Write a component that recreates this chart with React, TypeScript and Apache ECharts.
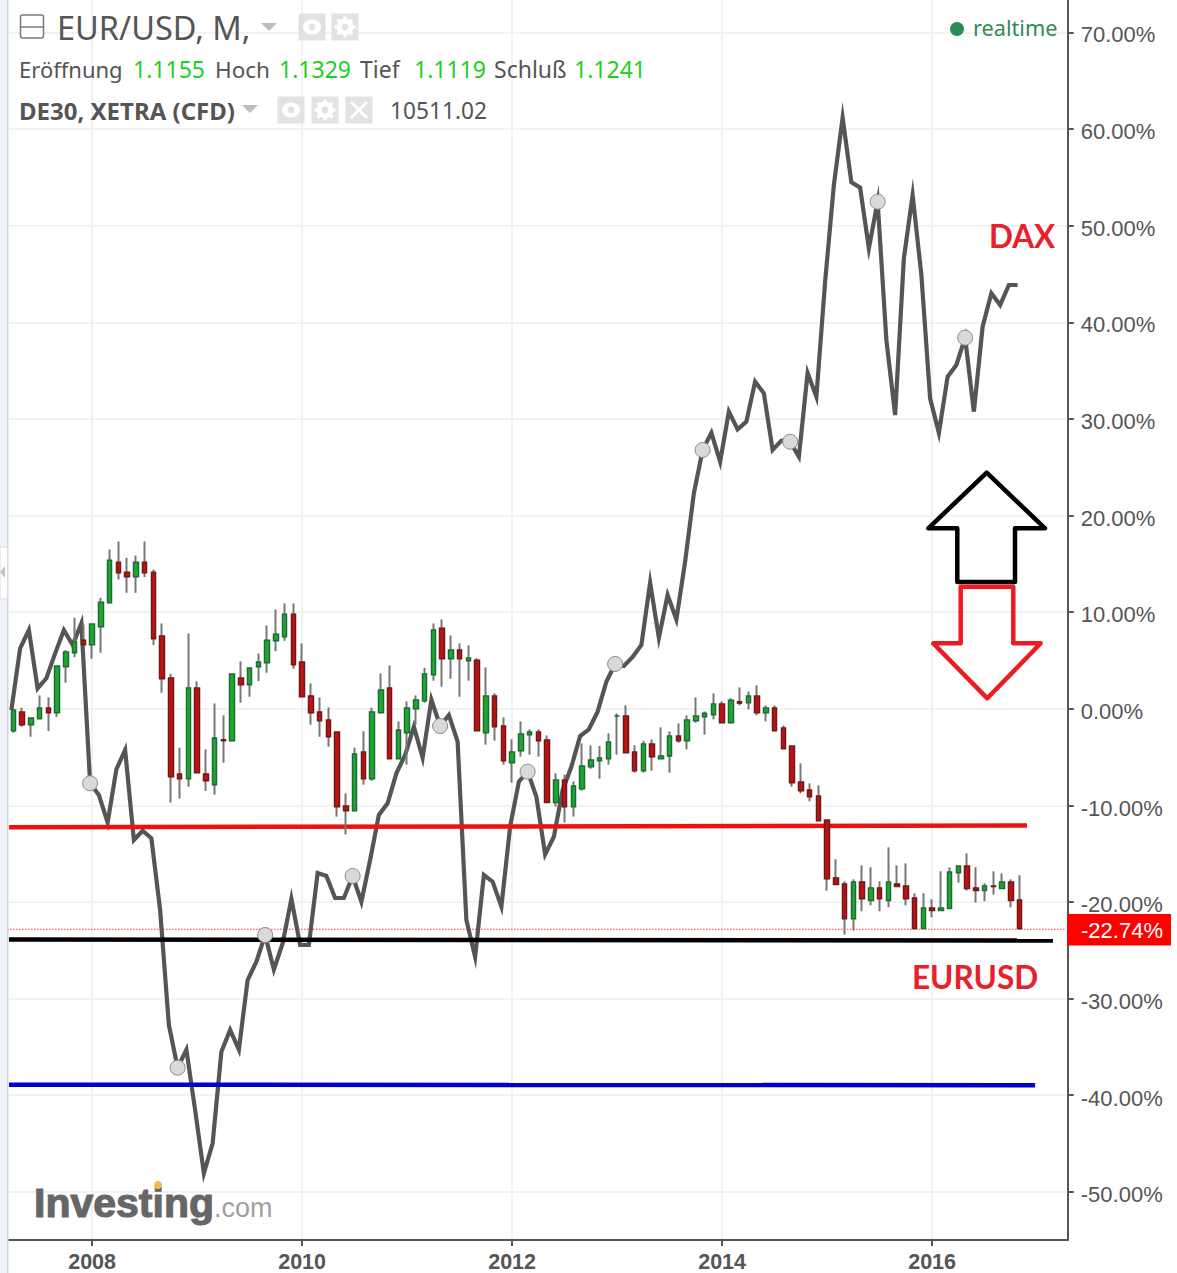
import React, { useEffect, useRef } from "react";
import * as echarts from "echarts";

const months: string[] = [];
for (let y = 2007, m = 4; months.length < 121; m++) {
  if (m > 12) { m = 1; y++; }
  months.push(`${y}-${String(m).padStart(2, "0")}`);
}

const opens = [
  -2.27, -0.34, -1.65, -1.03, 0.08, -0.4, 4.35, 5.8, 7.11, 6.63, 8.49, 10.97, 15.18, 14.15, 13.66, 15.18, 14.15, 7.53, 3.18, -6.75,
  -7.23, 2.15, -6.75, -7.85, -3.2, -3.3, 3.18, 2.49, 4.35, 4.77, 7.04, 7.46, 9.8, 4.84, 1.32, -0.34, -1.16, -2.4, -10.06,
  -10.54, -4.47, -7.23, -0.4, 2.15, -5.16, -2.47, 0.01, 0.84, 3.53, 8.35, 5.18, 6.08, 4.98, 5.04, -2.47, 1.32, -1.78, -5.58, -4.33,
  -2.68, -2.4, -3.23, -9.71, -7.37, -10.13, -8.27, -5.99, -5.37, -5.16, -0.75, -0.75, -4.47, -6.4, -3.64, -5.16, -4.89, -2.82, -3.3,
  -1.23, -0.82, -0.61, 0.49, -1.44, 0.73, 0.63, 1.32, -0.41, 0.08, -1.99, -3.85, -7.58, -8.4, -9.03, -11.51, -17.51, -18.13, -21.72,
  -17.92, -19.85, -18.54, -19.85, -18.13, -18.34, -19.58, -22.75, -20.61, -20.89, -20.68, -16.96, -16.27, -18.54, -18.82, -18.34, -18.61, -17.92, -19.78,
];
const closes = [
  -0.13, -1.65, -0.96, 0.08, -0.4, 4.42, 5.87, 6.91, 6.63, 8.77, 11.04, 15.39, 14.08, 13.66, 15.18, 14.08, 7.25, 3.11, -7.02, -7.23,
  2.15, -6.61, -7.44, -3.02, -3.3, 3.6, 2.49, 4.22, 4.84, 7.11, 7.73, 9.8, 4.56, 1.25, -0.4, -1.23, -2.89, -10.13, -10.54,
  -4.68, -7.23, -0.33, 1.94, -5.16, -2.2, 0.08, 0.91, 3.6, 8.15, 5.18, 6.08, 5.18, 5.25, -2.27, 1.32, -1.85, -5.37, -4.47, -2.61,
  -2.4, -3.3, -9.71, -7.37, -10.13, -8.0, -5.92, -5.3, -5.09, -3.44, -0.75, -4.54, -6.4, -3.64, -4.95, -4.89, -2.82, -3.3, -1.16,
  -0.75, -0.47, 0.49, -1.44, 0.9, 0.59, 1.32, -0.41, 0.08, -2.27, -4.13, -7.65, -8.47, -9.1, -11.58, -17.58, -18.2, -21.72, -17.92,
  -19.65, -18.54, -19.65, -17.92, -18.4, -19.65, -22.75, -20.61, -20.89, -20.61, -16.89, -16.27, -18.61, -18.82, -18.34, -18.4, -17.92, -19.85, -22.74,
];
const lows = [
  -2.47, -1.85, -2.89, -1.03, -2.3, -0.85, 2.7, 5.35, 6.63, 5.18, 5.8, 10.97, 13.39, 12.01, 12.01, 13.63, 6.6, 1.66, -9.71, -9.3,
  -8.06, -6.61, -8.51, -8.89, -5.58, -3.3, 0.63, 1.25, 2.87, 3.73, 5.97, 7.04, 4.15, 1.25, -1.65, -2.89, -3.92, -11.16, -13.0,
  -10.54, -7.85, -7.47, -0.4, -5.16, -5.16, -5.78, -1.64, 0.63, 2.91, 2.29, 3.11, 1.25, 2.91, -2.27, -3.71, -3.3, -5.78, -7.64, -4.95,
  -4.75, -4.95, -9.71, -10.13, -11.78, -11.16, -8.47, -6.2, -7.23, -5.78, -4.75, -4.54, -6.61, -6.61, -6.4, -5.16, -6.61, -3.51, -4.2,
  -1.44, -2.68, -1.1, -1.44, -1.44, 0.35, -0.06, -0.68, -1.3, -2.27, -4.13, -8.06, -8.75, -9.58, -11.58, -18.82, -18.2, -23.37, -22.96,
  -20.96, -20.34, -20.96, -20.54, -18.4, -20.34, -22.75, -22.75, -21.58, -20.89, -20.68, -18.0, -18.82, -20.06, -19.92, -19.23, -18.61, -20.54, -22.89,
];
const highs = [
  -0.13, 0.11, -0.96, 1.39, 1.18, 4.42, 6.08, 9.42, 8.73, 8.77, 11.49, 16.49, 17.32, 15.63, 15.87, 17.32, 14.42, 8.84, 3.63, -4.02,
  7.8, 2.84, -4.2, 0.56, -0.68, 3.6, 4.91, 4.22, 5.73, 8.63, 10.28, 10.91, 10.91, 6.77, 2.63, 1.18, 0.15, -2.4, -8.75,
  -4.02, -2.33, 0.11, 3.67, 4.49, -1.3, 0.77, 1.39, 4.25, 8.84, 9.25, 7.6, 6.77, 6.56, 5.25, 4.29, 1.6, -0.89, -3.16, -1.3,
  -2.13, -2.13, -2.75, -6.68, -6.82, -7.51, -3.58, -3.78, -3.85, -2.54, -0.47, 0.36, -3.78, -3.3, -3.16, -1.92, -2.33, -1.51, -0.68,
  1.18, -0.27, 1.59, 0.77, 1.11, 2.21, 1.8, 2.42, 0.35, 0.35, -1.72, -3.85, -5.65, -7.72, -7.92, -11.51, -15.58, -17.85, -17.65,
  -16.2, -16.4, -17.85, -14.34, -16.2, -16.0, -19.09, -19.09, -19.72, -16.82, -16.4, -16.27, -14.96, -16.4, -18.06, -16.82, -17.03, -17.65, -17.23,
];

const daxValues = [
  -0.06, 6.32, 8.21, 2.18, 3.22, 5.8, 8.21, 6.66, 8.9, -7.64, -8.85, -11.7, -6.2, -4.2, -13.51, -12.55, -13.33, -20.75, -32.65, -37.06,
  -35.2, -41.44, -47.99, -44.88, -35.41, -33.16, -35.2, -27.99, -26.1, -23.34, -26.9, -24.2, -19.6, -24.37, -24.37, -16.92, -17.23, -19.51, -19.51,
  -17.23, -19.9, -15.58, -10.92, -9.71, -6.61, -4.72, -1.79, -5.0, 1.0, -1.72, -0.58, -3.34, -21.79, -25.6, -17.13, -17.82, -20.4, -12.13, -7.48,
  -6.44, -9.03, -15.0, -13.17, -8.34, -5.93, -2.75, -2.06, -0.24, 2.87, 4.7, 4.49, 5.42, 6.66, 13.1, 7.4, 11.83, 9.3, 15.28, 22.35, 26.83,
  28.6, 25.62, 30.8, 28.97, 29.76, 33.9, 32.7, 26.83, 27.8, 27.69, 26.14, 34.8, 32.35, 44.24, 54.25, 61.2, 54.53, 53.97, 47.7, 52.52,
  38.21, 30.45, 46.66, 53.2, 44.94, 32.18, 28.6, 34.42, 35.63, 38.45, 30.8, 39.59, 43.04, 41.83, 43.9, 43.9,
];
const markerIndices = [9, 19, 29, 39, 49, 59, 69, 79, 89, 99, 109];
const percentTicks = [70, 60, 50, 40, 30, 20, 10, 0, -10, -20, -30, -40, -50];
const yearTicks = [9, 33, 57, 81, 105];
const yearLabels = ["2008", "2010", "2012", "2014", "2016"];
const lastPercent = -22.74;
const redLevel = [[-0.27, -12.18], [116.07, -12.02]];
const blackLevel = [[-0.27, -23.8], [119.04, -23.9]];
const blueLevel = [[-0.27, -38.82], [117, -38.88]];
const lastLevel = [[-0.5, lastPercent], [120.5, lastPercent]];

const AXIS = "#555555";
const GRID = "#f2f2f2";
const SANS = '"Noto Sans", sans-serif';
const ARIAL = '"Liberation Sans", Arial, sans-serif';
const GREEN_NUM = "#1fcf1f";

const txt = (text: string, x: number, y: number, fill: string, size: number, extra: any = {}) => ({
  type: "text", x, y, z: 50,
  style: { text, fill, fontSize: size, fontFamily: SANS, verticalAlign: "middle", ...extra },
});
const btn = (x: number, y: number) => ({
  type: "rect", z: 49, shape: { x: x - 13.5, y: y - 13.5, width: 27, height: 27 }, style: { fill: "#e2e2e2" },
});
const eye = (x: number, y: number) => [
  btn(x, y),
  { type: "ellipse", z: 50, shape: { cx: x, cy: y, rx: 9, ry: 7.5 }, style: { fill: "#fff" } },
  { type: "circle", z: 51, shape: { cx: x, cy: y, r: 3.5 }, style: { fill: "#e2e2e2" } },
];
const gear = (x: number, y: number) => [
  btn(x, y),
  { type: "ring", z: 50, shape: { cx: x, cy: y, r: 8.5, r0: 3.5 }, style: { fill: "#fff" } },
  ...[0, 45, 90, 135].map((a) => {
    const dx = Math.cos((a * Math.PI) / 180) * 10.5;
    const dy = Math.sin((a * Math.PI) / 180) * 10.5;
    return { type: "line", z: 50, shape: { x1: x - dx, y1: y - dy, x2: x + dx, y2: y + dy }, style: { stroke: "#fff", lineWidth: 3 } };
  }),
  { type: "circle", z: 51, shape: { cx: x, cy: y, r: 3.5 }, style: { fill: "#e2e2e2" } },
];
const cross = (x: number, y: number) => [
  btn(x, y),
  { type: "line", z: 50, shape: { x1: x - 8, y1: y - 8, x2: x + 8, y2: y + 8 }, style: { stroke: "#fff", lineWidth: 3 } },
  { type: "line", z: 50, shape: { x1: x - 8, y1: y + 8, x2: x + 8, y2: y - 8 }, style: { stroke: "#fff", lineWidth: 3 } },
];
const caret = (x: number, y: number) => ({
  type: "polygon", z: 50, shape: { points: [[x - 8, y - 4], [x + 8, y - 4], [x, y + 4]] }, style: { fill: "#bdbdbd" },
});

const graphics: any[] = [
  { type: "rect", z: 40, shape: { x: 0, y: 0, width: 7, height: 1273 }, style: { fill: "#f0f3fa" } },
  { type: "rect", z: 40, shape: { x: 7, y: 0, width: 1.5, height: 1273 }, style: { fill: "#d2d5dc" } },
  { type: "rect", z: 41, shape: { x: 0, y: 547, width: 7.5, height: 52 }, style: { fill: "#ffffff", stroke: "#dcdcdc", lineWidth: 1 } },
  { type: "polygon", z: 42, shape: { points: [[5, 566], [5, 578], [0, 572]] }, style: { fill: "#c4c4c4" } },

  { type: "rect", z: 50, shape: { x: 20.5, y: 15, width: 23, height: 23, r: 2 }, style: { fill: "#fff", stroke: "#7a7a7a", lineWidth: 1.5 } },
  { type: "line", z: 51, shape: { x1: 21, y1: 27, x2: 43, y2: 27 }, style: { stroke: "#7a7a7a", lineWidth: 1.5 } },
  txt("EUR/USD, M,", 57, 27, "#555555", 32.5),
  caret(269, 27),
  ...eye(312, 27),
  ...gear(345, 27),
  txt("Eröffnung", 19, 69, "#555555", 22),
  txt("1.1155", 133, 69, GREEN_NUM, 23),
  txt("Hoch", 215, 69, "#555555", 22.5),
  txt("1.1329", 279, 69, GREEN_NUM, 23),
  txt("Tief", 360, 69, "#555555", 23),
  txt("1.1119", 414, 69, GREEN_NUM, 23),
  txt("Schluß", 494, 69, "#555555", 23),
  txt("1.1241", 574, 69, GREEN_NUM, 23),
  txt("DE30, XETRA (CFD)", 19, 110, "#555555", 24, { fontWeight: "bold" }),
  caret(250, 109),
  ...eye(291, 110),
  ...gear(325, 110),
  ...cross(359, 110),
  txt("10511.02", 390, 110, "#555555", 22.7),
  { type: "circle", z: 50, shape: { cx: 957, cy: 29, r: 7 }, style: { fill: "#2e8b57" } },
  txt("realtime", 973, 27, "#2e8b57", 21.7),

  { type: "rect", z: 45, shape: { x: 1067, y: 914, width: 104, height: 31.5 }, style: { fill: "#ff0000" } },
  txt(`${lastPercent.toFixed(2)}%`, 1081, 930.5, "#ffffff", 22, { fontFamily: ARIAL }),

  {
    type: "polygon", z: 46,
    shape: { points: [[986.7, 472.7], [1045, 528.3], [1015, 528.3], [1015, 582], [957.3, 582], [957.3, 528.3], [928.3, 528.3]] },
    style: { fill: "transparent", stroke: "#000000", lineWidth: 4.5, lineJoin: "round" },
  },
  {
    type: "polygon", z: 47,
    shape: { points: [[960.7, 586.7], [1013.3, 586.7], [1013.3, 643.3], [1040.7, 643.3], [987.3, 698.3], [933.3, 643.3], [960.7, 643.3]] },
    style: { fill: "transparent", stroke: "#ed1c24", lineWidth: 4.5, lineJoin: "round" },
  },
  txt("DAX", 989, 236, "#e8202a", 31.5, { fontFamily: "Lato, sans-serif", fontWeight: "bold" }),
  txt("EURUSD", 912, 977, "#e8202a", 31.5, { fontFamily: "Lato, sans-serif", fontWeight: "bold" }),

  {
    type: "text", x: 34, y: 1203, z: 30,
    style: { text: "Investing", fill: "#666666", stroke: "#6e6e6e", lineWidth: 1.2, fontSize: 41, fontWeight: "bold", fontFamily: ARIAL, verticalAlign: "middle" },
  },
  { type: "text", x: 214, y: 1208, z: 30, style: { text: ".com", fill: "#a0a0a0", fontSize: 27, fontFamily: ARIAL, verticalAlign: "middle" } },
  { type: "circle", z: 31, shape: { cx: 158, cy: 1185, r: 4 }, style: { fill: "#f6b94e" } },
];

const levelSeries = (name: string, data: number[][], color: string) => ({
  name, type: "line", xAxisIndex: 1, yAxisIndex: 1, data, symbol: "none", z: 4, silent: true,
  lineStyle: { color, width: 4.5 },
});

export default function App() {
  const ref = useRef<HTMLDivElement>(null);
  useEffect(() => {
    const chart = echarts.init(ref.current!, undefined, { renderer: "svg" });
    const rows = opens.map((o, i) => ({ o, c: closes[i], l: lows[i], h: highs[i] }));
    chart.setOption({
      animation: false,
      backgroundColor: "#ffffff",
      grid: [
        { left: 9, top: 0, width: 1058.75, height: 1241 },
        { left: 7, top: 0, width: 1058.75, height: 1241 },
        { left: 9, top: 2, width: 1058.75, height: 1241 },
      ],
      xAxis: [
        { type: "category", gridIndex: 0, data: months, boundaryGap: true, show: false, position: "bottom" },
        { type: "value", gridIndex: 1, min: -0.5, max: 120.5, show: false },
        {
          type: "value", gridIndex: 0, min: -0.5, max: 120.5, position: "bottom",
          axisLine: { show: true, onZero: false, lineStyle: { color: AXIS, width: 2 } },
          axisTick: { show: true, length: 6, customValues: yearTicks, lineStyle: { color: AXIS, width: 2 } },
          axisLabel: {
            customValues: yearTicks, showMinLabel: true, showMaxLabel: true,
            formatter: (v: number) => yearLabels[yearTicks.indexOf(v)] ?? "",
            color: AXIS, fontSize: 21.5, fontWeight: "bold", fontFamily: ARIAL, margin: 11,
          },
          splitLine: { show: true, lineStyle: { color: GRID, width: 2 } },
        },
        { type: "value", gridIndex: 2, min: -0.5, max: 120.5, show: false },
      ],
      yAxis: [
        {
          type: "value", gridIndex: 0, position: "right", min: -54.99, max: 73.38,
          axisLine: { show: true, onZero: false, lineStyle: { color: AXIS, width: 2 } },
          axisTick: { show: true, length: 6, customValues: percentTicks, lineStyle: { color: AXIS, width: 2 } },
          axisLabel: { show: false },
          splitLine: { show: true, lineStyle: { color: GRID, width: 2 } },
        },
        { type: "value", gridIndex: 1, min: -54.99, max: 73.38, show: false },
        {
          type: "value", gridIndex: 2, position: "right", min: -54.99, max: 73.38,
          axisLine: { show: false, onZero: false },
          axisTick: { show: false, customValues: percentTicks },
          axisLabel: {
            customValues: percentTicks, showMinLabel: true, showMaxLabel: true,
            formatter: (v: number) => `${v.toFixed(2)}%`,
            color: AXIS, fontSize: 22, fontFamily: ARIAL, margin: 13,
          },
          splitLine: { show: false },
        },
      ],
      series: [
        {
          name: "DE30", type: "line", xAxisIndex: 1, yAxisIndex: 1, z: 3, silent: true, symbol: "none",
          data: daxValues.map((v, i) => [i, v]),
          lineStyle: { color: "#555555", width: 4.2, join: "miter", miterLimit: 8.8 },
        },
        {
          name: "Last value", type: "line", xAxisIndex: 1, yAxisIndex: 1, z: 2, silent: true, symbol: "none",
          data: lastLevel,
          lineStyle: { color: "#ff3030", width: 1.2, type: [1.5, 1.5] },
        },
        levelSeries("Level red", redLevel, "#ee1111"),
        levelSeries("Level black", blackLevel, "#000000"),
        levelSeries("Level blue", blueLevel, "#0000cc"),
        {
          name: "EUR/USD wicks", type: "candlestick", xAxisIndex: 0, yAxisIndex: 0, z: 5, barWidth: 1, silent: true,
          data: rows.map((r) => [r.o, r.c, r.l, r.h]),
          itemStyle: { color: "#777777", color0: "#777777", borderColor: "#777777", borderColor0: "#777777", borderWidth: 2 },
        },
        {
          name: "EUR/USD", type: "candlestick", xAxisIndex: 0, yAxisIndex: 0, z: 6, barWidth: 5, silent: true,
          data: rows.map((r) => [r.o, r.c, Math.min(r.o, r.c), Math.max(r.o, r.c)]),
          itemStyle: { color: "#1fa82c", color0: "#bf1212", borderColor: "#1d6b38", borderColor0: "#6e1a1a", borderWidth: 1.5 },
        },
        {
          name: "DE30 markers", type: "scatter", xAxisIndex: 1, yAxisIndex: 1, z: 7, silent: true,
          data: markerIndices.map((i) => [i, daxValues[i]]),
          symbol: "circle", symbolSize: 15,
          itemStyle: { color: "#d9d9d9", borderColor: "#8a8a8a", borderWidth: 1, opacity: 1 },
        },
      ],
      graphic: { elements: graphics },
    });
    return () => chart.dispose();
  }, []);
  return <div ref={ref} style={{ position: "absolute", left: 0, top: 0, width: 1177, height: 1273 }} />;
}
